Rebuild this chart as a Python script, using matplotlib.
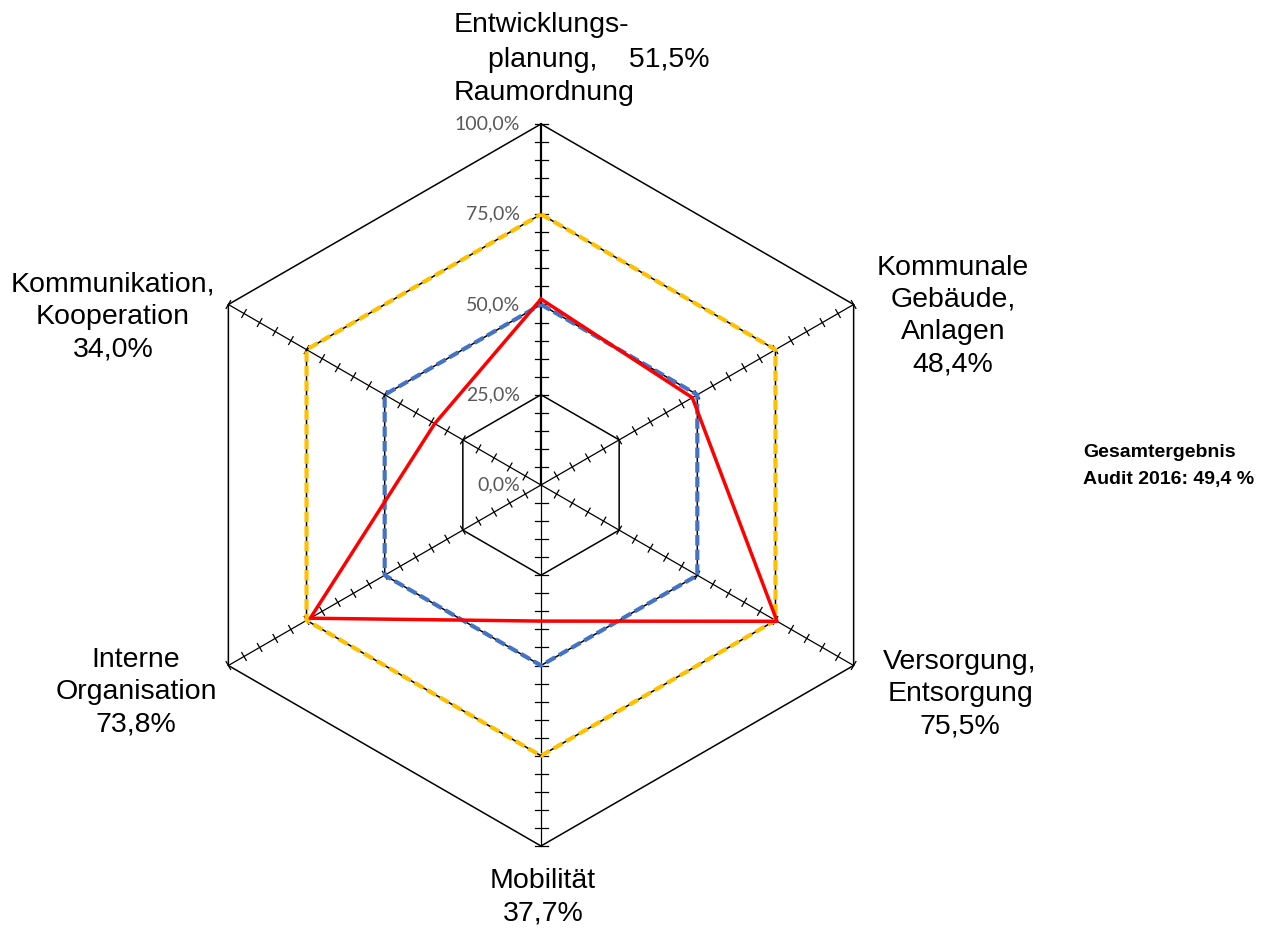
import numpy as np
import matplotlib
matplotlib.use('Agg')
import matplotlib.pyplot as plt

plt.rcParams['font.family'] = ['Liberation Sans', 'DejaVu Sans']

# data
categories = ['Entwicklungsplanung, Raumordnung', 'Kommunale Gebäude, Anlagen',
              'Versorgung, Entsorgung', 'Mobilität', 'Interne Organisation',
              'Kommunikation, Kooperation']
audit_2016 = [51.5, 48.4, 75.5, 37.7, 73.8, 34.0]
ref_50 = [50, 50, 50, 50, 50, 50]
ref_75 = [75, 75, 75, 75, 75, 75]
grid_levels = [25, 50, 75, 100]
tick_labels = ['0,0%', '25,0%', '50,0%', '75,0%', '100,0%']
gesamt = 'Gesamtergebnis\nAudit 2016: 49,4 %'

W, H = 1280, 930
CX, CY, R = 541, 485, 361  # centre + radius of 100% in pixels

fig = plt.figure(figsize=(W / 100, H / 100), dpi=100)
ax = fig.add_axes([0, 0, 1, 1])
ax.set_xlim(-CX / R, (W - CX) / R)
ax.set_ylim((CY - H) / R, CY / R)
ax.axis('off')

n = len(categories)
ang = np.arange(n) * 2 * np.pi / n  # clockwise from top


def xy(vals):
    v = np.asarray(vals, dtype=float) / 100.0
    x = v * np.sin(ang)
    y = v * np.cos(ang)
    return np.append(x, x[0]), np.append(y, y[0])


# hexagon grid
for lev in grid_levels:
    gx, gy = xy([lev] * n)
    ax.plot(gx, gy, color='black', lw=1.1, zorder=1)

# spokes + minor ticks every 5%
for i, a in enumerate(ang):
    ax.plot([0, np.sin(a)], [0, np.cos(a)], color='black',
            lw=1.6 if i == 0 else 0.9, zorder=1)
    px, py = np.cos(a), -np.sin(a)
    tl = (6.5 if i in (0, 3) else 4.5) / R
    for r in np.arange(0.05, 1.0001, 0.05):
        sx, sy = r * np.sin(a), r * np.cos(a)
        ax.plot([sx - px * tl, sx + px * tl], [sy - py * tl, sy + py * tl],
                color='black', lw=0.9, zorder=1)

# series
ox, oy = xy(ref_75)
ax.plot(ox, oy, color='#FFC000', lw=3.0, ls=(0, (2.5, 1.0)), zorder=3)
bx, by = xy(ref_50)
ax.plot(bx, by, color='#4472C4', lw=3.0, ls=(0, (2.5, 1.0)), zorder=4)
rx, ry = xy(audit_2016)
ax.plot(rx, ry, color='#FF0000', lw=2.5, zorder=5)

# value axis labels
for k, t in enumerate(tick_labels):
    ax.text(-21 / R, k * 0.25, t, ha='right', va='center', fontsize=14,
            color='#595959', family=['Lato', 'DejaVu Sans'])


def P(px_, py_):
    return (px_ - CX) / R, (CY - py_) / R


fs = 20.5
# top label
ax.text(*P(541, 25), 'Entwicklungs-', ha='center', va='center', fontsize=fs)
ax.text(*P(488, 60), 'planung,    51,5%', ha='left', va='center', fontsize=fs)
ax.text(*P(544, 93), 'Raumordnung', ha='center', va='center', fontsize=fs)

lab = [
    (953, 316, 'Kommunale\nGebäude,\nAnlagen\n48,4%'),
    (960, 694, 'Versorgung,\nEntsorgung\n75,5%'),
    (543, 897, 'Mobilität\n37,7%'),
    (136, 692, 'Interne\nOrganisation\n73,8%'),
    (113, 317, 'Kommunikation,\nKooperation\n34,0%'),
]
for px_, py_, t in lab:
    ax.text(*P(px_, py_), t, ha='center', va='center', fontsize=fs,
            linespacing=1.31)

ax.text(*P(1083, 466), gesamt, ha='left', va='center', fontsize=14,
        fontweight='bold', linespacing=1.75)

fig.savefig('out.png', dpi=100)
